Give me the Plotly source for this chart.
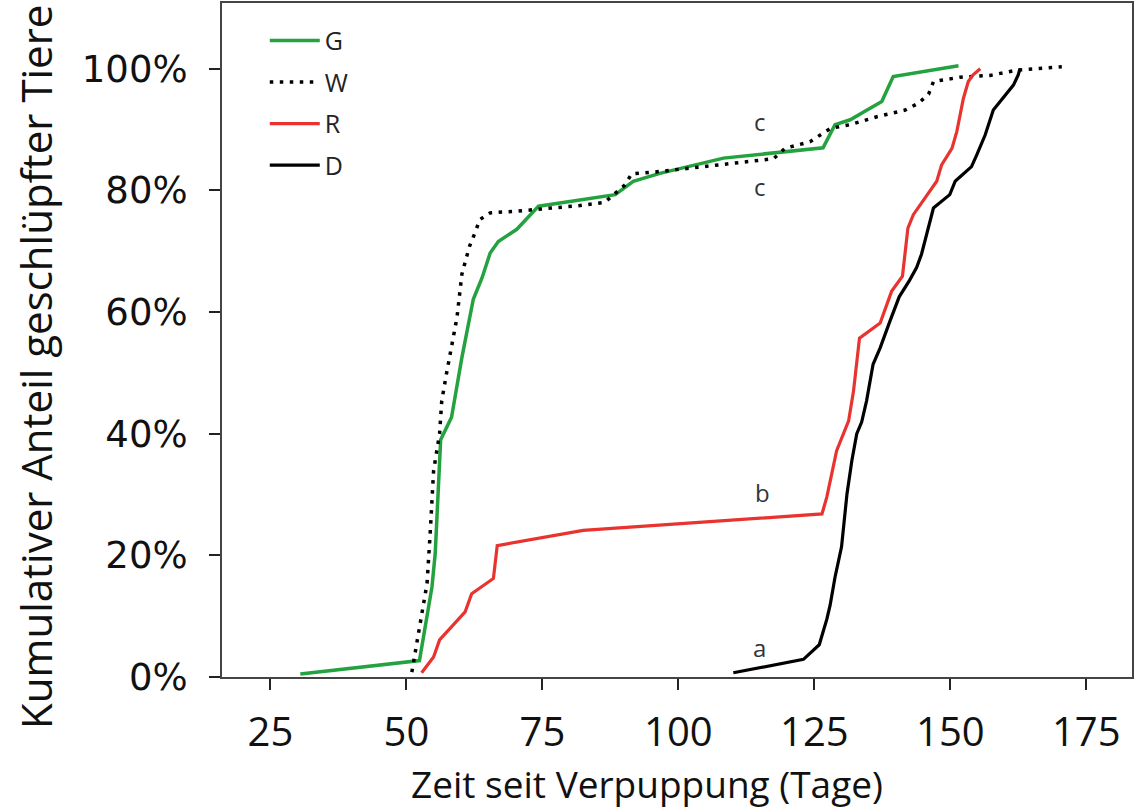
import plotly.graph_objects as go

# Cumulative emergence (%) over days since pupation, per group
g_days = [30.5, 52.4, 54.7, 55.3, 56.3, 58.3, 60.2, 62.3, 63.9, 65.4, 66.9, 70.3, 74.3,
          81.9, 88.4, 91.7, 96.6, 108.3, 126.6, 128.8, 131.6, 134.3, 137.4, 139.5, 151.5]
g_pct = [0.5, 2.7, 14.8, 20.3, 39.0, 42.7, 52.5, 62.1, 65.6, 69.7, 71.6, 73.6, 77.4,
         78.5, 79.3, 81.5, 82.8, 85.3, 87.0, 90.8, 91.6, 93.0, 94.6, 98.7, 100.5]

w_days = [51.0, 52.5, 53.8, 54.4, 55.0, 56.1, 56.5, 57.4, 58.3, 59.3, 60.2, 60.8, 61.6,
          62.6, 63.5, 65.4, 70.6, 81.9, 86.4, 90.2, 91.4, 96.6, 101.8, 117.5, 119.6,
          124.2, 128.0, 131.6, 136.5, 141.7, 144.1, 146.0, 146.9, 151.8, 157.3, 162.5, 170.5]
w_pct = [0.8, 8.2, 15.4, 24.1, 33.9, 40.0, 45.4, 50.0, 54.7, 59.1, 66.2, 68.4, 70.8,
         73.0, 75.2, 76.3, 76.6, 77.5, 78.0, 80.9, 82.7, 83.1, 83.6, 85.2, 86.9,
         88.0, 90.2, 90.8, 92.1, 93.2, 94.3, 95.8, 97.9, 98.6, 98.9, 99.8, 100.3]

r_days = [52.8, 55.0, 56.1, 60.8, 62.0, 66.0, 66.7, 82.5, 126.4, 127.3, 129.1, 131.3,
          132.2, 133.3, 137.1, 139.2, 141.2, 142.2, 143.2, 145.7, 147.5, 148.4, 150.3,
          151.2, 152.4, 153.3, 154.2, 155.5]
r_pct = [0.7, 3.3, 6.1, 10.7, 13.7, 16.2, 21.6, 24.1, 26.8, 29.6, 37.2, 42.1,
         47.0, 55.7, 58.2, 63.4, 65.9, 73.8, 76.0, 79.3, 81.5, 84.2, 86.9,
         89.7, 95.1, 97.9, 99.0, 100.0]

d_days = [110.1, 123.0, 125.9, 127.3, 127.9, 128.8, 130.0, 131.0, 131.9, 132.8, 133.7,
          134.6, 135.8, 137.1, 138.9, 140.6, 142.5, 143.8, 144.7, 146.0, 146.9, 149.9,
          150.9, 151.5, 153.9, 154.9, 156.4, 157.9, 159.7, 161.6, 162.5, 162.8]
d_pct = [0.7, 2.9, 5.3, 9.5, 11.8, 16.4, 21.4, 30.1, 35.6, 40.0, 41.9,
         45.4, 51.4, 54.1, 58.5, 62.5, 65.2, 67.3, 69.5, 73.8, 77.1, 79.3,
         81.5, 82.0, 83.9, 85.9, 89.1, 93.2, 95.1, 97.3, 99.0, 100.0]

x_ticks = [25, 50, 75, 100, 125, 150, 175]
y_ticks = [0, 20, 40, 60, 80, 100]
y_labels = ["0%", "20%", "40%", "60%", "80%", "100%"]

# Significance letters: (day, percent, letter)
letter_x = [115.0, 115.0, 115.4, 115.0]
letter_y = [91.3, 80.7, 30.3, 4.9]
letter_txt = ["c", "c", "b", "a"]

GREEN = "#23a23f"
RED = "#e8332f"
BLACK = "#000000"

fig = go.Figure()
series = [
    ("G", g_days, g_pct, dict(color=GREEN, width=3.5)),
    ("W", w_days, w_pct, dict(color=BLACK, width=3.5, dash="3.5px,6.5px")),
    ("R", r_days, r_pct, dict(color=RED, width=3.2)),
    ("D", d_days, d_pct, dict(color=BLACK, width=3.2)),
]
for name, xs, ys, line in series:
    fig.add_trace(go.Scatter(x=xs, y=ys, mode="lines", name=name, line=line,
                             legendgroup=name, showlegend=True))

for lx, ly, lt in zip(letter_x, letter_y, letter_txt):
    fig.add_annotation(x=lx, y=ly, text=lt, showarrow=False,
                       font=dict(family="Open Sans", size=24, color="#333333"))

# Axis titles
fig.add_annotation(x=0.467, y=0, xref="paper", yref="paper", yanchor="middle",
                   yshift=-106, text="Zeit seit Verpuppung (Tage)", showarrow=False,
                   font=dict(family="Open Sans", size=37, color="#111111"))
fig.add_annotation(x=0, y=0.46, xref="paper", yref="paper", xanchor="center",
                   xshift=-186, text="Kumulativer Anteil geschlüpfter Tiere",
                   textangle=-90, showarrow=False,
                   font=dict(family="Open Sans", size=42, color="#111111"))

axis_col = "#444444"
fig.update_xaxes(range=[16.1, 183.4], tickvals=x_ticks, ticks="outside", ticklen=11,
                 tickwidth=2, tickcolor="#222222", showline=True, linecolor=axis_col,
                 linewidth=2, mirror=True, showgrid=False, zeroline=False,
                 ticklabelstandoff=8,
                 tickfont=dict(family="Open Sans", size=40, color="#111111"))
fig.update_yaxes(range=[0, 110.8], tickvals=y_ticks, ticktext=y_labels, ticks="outside",
                 ticklen=11, tickwidth=2, tickcolor="#222222", showline=True,
                 linecolor=axis_col, linewidth=2, mirror=True, showgrid=False,
                 zeroline=False, ticklabelstandoff=14,
                 tickfont=dict(family="DejaVu Sans", size=37, color="#111111"))

fig.update_layout(
    width=1144, height=810,
    margin=dict(l=222, r=12, t=1, b=133),
    paper_bgcolor="white", plot_bgcolor="white",
    showlegend=True,
    legend=dict(x=0.047, y=0.978, xanchor="left", yanchor="top",
                bgcolor="rgba(0,0,0,0)", tracegroupgap=6, itemwidth=50,
                font=dict(family="Open Sans", size=25, color="#222222")),
)

fig.write_html("out.html")
